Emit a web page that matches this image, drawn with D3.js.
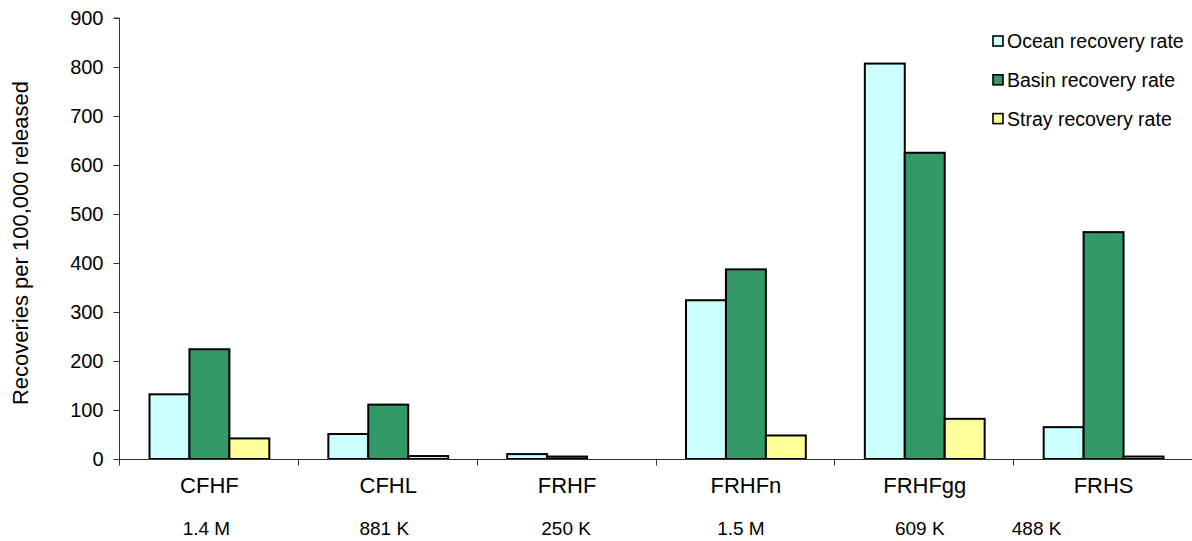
<!DOCTYPE html>
<html>
<head>
<meta charset="utf-8">
<script src="https://cdn.jsdelivr.net/npm/d3@7"></script>
<style>
  html, body { margin: 0; padding: 0; background: #fff; }
  svg { display: block; font-family: Arial, "Liberation Sans", sans-serif; }
</style>
</head>
<body>
<svg id="chart" width="1192" height="541"></svg>
<script>
// Hatchery release groups and their release sizes
const categories = ["CFHF", "CFHL", "FRHF", "FRHFn", "FRHFgg", "FRHS"];
const releaseSizes = ["1.4 M", "881 K", "250 K", "1.5 M", "609 K", "488 K"];

// Recoveries per 100,000 released, by recovery type
const seriesNames = ["Ocean recovery rate", "Basin recovery rate", "Stray recovery rate"];
const oceanRate = [132, 51, 10, 324, 807, 65];
const basinRate = [224, 111, 5, 387, 625, 463];
const strayRate = [42, 6, 0, 48, 82, 5];

const yTicks = [0, 100, 200, 300, 400, 500, 600, 700, 800, 900];

// Layout
const W = 1192, H = 541;
const plot = { left: 120, right: 1193, top: 18, bottom: 459 };
const colors = ["#CCFFFF", "#339966", "#FFFF99"];
// horizontal nudges for the release-size captions under each group
const releaseShift = [-3, -4, -1, -5, -5, -67];

const svg = d3.select("#chart");

const x = d3.scaleBand()
  .domain(categories)
  .range([plot.left, plot.right])
  .paddingInner(0.33)
  .paddingOuter(0.165);

const xs = d3.scaleBand()
  .domain(seriesNames)
  .range([0, x.bandwidth()])
  .padding(0);

const y = d3.scaleLinear()
  .domain([0, 900])
  .range([plot.bottom, plot.top]);

const seriesValues = [oceanRate, basinRate, strayRate];
const rows = categories.map((c, i) => ({
  cat: c,
  vals: seriesNames.map((s, j) => ({ s, j, v: seriesValues[j][i] }))
}));

// Bars
const groups = svg.append("g")
  .selectAll("g")
  .data(rows)
  .join("g")
  .attr("transform", d => `translate(${x(d.cat)},0)`);

groups.selectAll("rect")
  .data(d => d.vals.filter(e => e.v > 0))
  .join("rect")
  .attr("x", d => xs(d.s))
  .attr("y", d => y(d.v))
  .attr("width", xs.bandwidth())
  .attr("height", d => y(0) - y(d.v))
  .attr("fill", d => colors[d.j])
  .attr("stroke", "#000")
  .attr("stroke-width", 2);

// Y axis
const yAxis = d3.axisLeft(y)
  .tickValues(yTicks)
  .tickSize(6)
  .tickPadding(10);

const gy = svg.append("g")
  .attr("transform", `translate(${plot.left - 0.5},0)`)
  .call(yAxis);
gy.select(".domain").attr("stroke", "#333").attr("d", `M-6,${plot.top}H0V${plot.bottom}`);
gy.selectAll(".tick line").attr("stroke", "#333");
gy.selectAll(".tick text")
  .attr("fill", "#000")
  .style("font-size", "20px")
  .style("font-family", "Arial, 'Liberation Sans', sans-serif");

// X axis: boundary ticks between groups
const gx = svg.append("g")
  .attr("transform", `translate(0,${plot.bottom + 0.5})`);
gx.append("line")
  .attr("x1", plot.left - 6).attr("x2", W)
  .attr("stroke", "#333");
const bounds = d3.range(categories.length + 1).map(i => plot.left + i * x.step());
gx.selectAll(".bt")
  .data(bounds)
  .join("line")
  .attr("x1", d => Math.round(d) - 0.5)
  .attr("x2", d => Math.round(d) - 0.5)
  .attr("y1", 0).attr("y2", 6)
  .attr("stroke", "#333");

// Category labels
svg.append("g")
  .selectAll("text")
  .data(categories)
  .join("text")
  .attr("x", d => x(d) + x.bandwidth() / 2)
  .attr("y", 492.5)
  .attr("text-anchor", "middle")
  .style("font-size", "22px")
  .text(d => d);

// Release size captions
svg.append("g")
  .selectAll("text")
  .data(releaseSizes)
  .join("text")
  .attr("x", (d, i) => x(categories[i]) + x.bandwidth() / 2 + releaseShift[i])
  .attr("y", 535)
  .attr("text-anchor", "middle")
  .style("font-size", "19px")
  .text(d => d);

// Y axis title
svg.append("text")
  .attr("transform", `translate(28,243) rotate(-90)`)
  .attr("text-anchor", "middle")
  .style("font-size", "22px")
  .text("Recoveries per 100,000 released");

// Legend
const legend = svg.append("g")
  .attr("transform", "translate(993,41)");
const li = legend.selectAll("g")
  .data(seriesNames)
  .join("g")
  .attr("transform", (d, i) => `translate(0,${i * 38.8})`);
li.append("rect")
  .attr("x", 0).attr("y", -5)
  .attr("width", 10).attr("height", 10)
  .attr("fill", (d, i) => colors[i])
  .attr("stroke", "#000")
  .attr("stroke-width", 1.6);
li.append("text")
  .attr("x", 14)
  .attr("y", 7)
  .style("font-size", "19.5px")
  .text(d => d);
</script>
</body>
</html>
